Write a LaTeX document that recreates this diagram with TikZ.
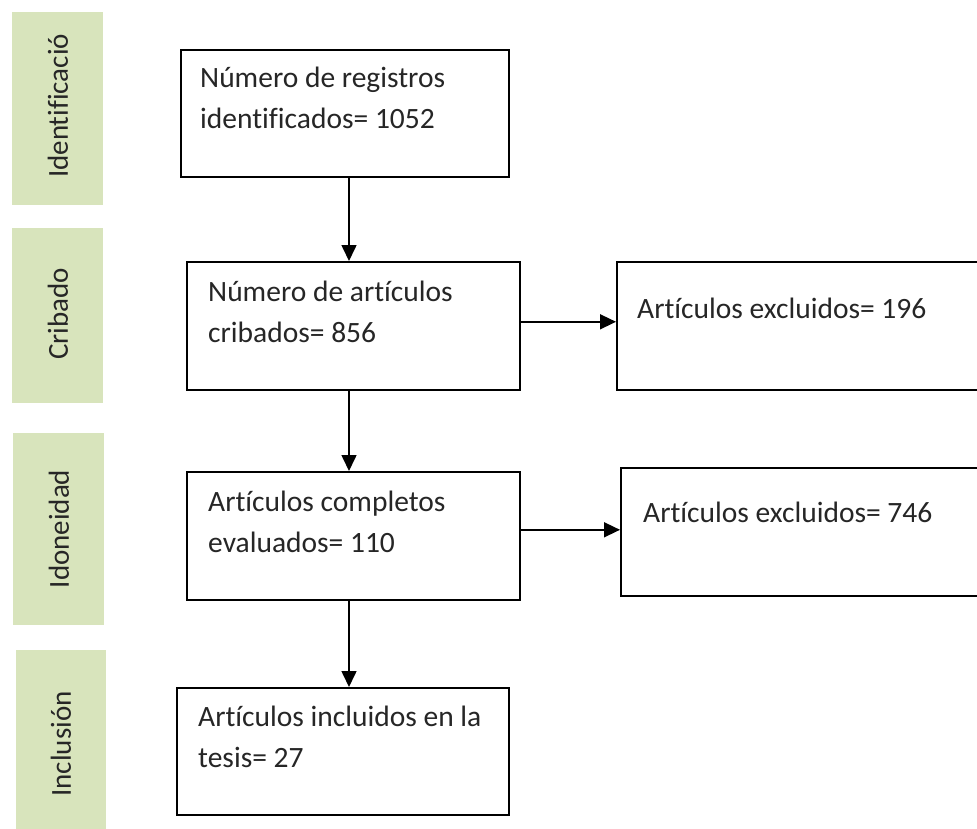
\documentclass[tikz,border=0pt]{standalone}
\usepackage{fontspec}
\setmainfont{Carlito}[Ligatures=NoCommon]
\usetikzlibrary{arrows.meta}
\definecolor{bargreen}{HTML}{D8E4BC}
\definecolor{txtgray}{HTML}{262626}
\tikzset{
  sidebar/.style={fill=bargreen, draw=none},
  sidetext/.style={rotate=90, text=txtgray, font=\fontsize{29}{34}\selectfont, inner sep=0pt},
  boxshape/.style={draw=black, line width=1.6pt, fill=white, inner sep=0pt, anchor=north west},
  boxtext/.style={text=txtgray, font=\fontsize{29.5}{41}\selectfont, align=left, inner sep=0pt, anchor=north west},
  arr/.style={draw=black, line width=1.6pt, -{Triangle[length=16pt,width=15pt]}}
}
\newcommand{\firstline}{\rule{0pt}{30pt}}
\begin{document}
\begin{tikzpicture}[x=1pt,y=-1pt]
\useasboundingbox (0,0) rectangle (977,829);
\begin{scope}
\clip (0,0) rectangle (977,829);
% side bars
\fill[sidebar] (12,12) rectangle (103,205);
\fill[sidebar] (12,228) rectangle (103,403);
\fill[sidebar] (13,433) rectangle (104,625);
\fill[sidebar] (16,650) rectangle (106,840);
\node[sidetext] (sIdent) at (58,106) {Identificació};
\node[sidetext] (sCrib) at (58,314) {Cribado};
\node[sidetext] (sIdon) at (59,529) {Idoneidad};
\node[sidetext] (sIncl) at (61,744) {Inclusión};
% boxes
\node[boxshape, minimum width=328pt, minimum height=127pt] (b1) at (180,49) {};
\node[boxshape, minimum width=333pt, minimum height=128pt] (b2) at (186,261) {};
\node[boxshape, minimum width=380pt, minimum height=128pt] (b3) at (616,261) {};
\node[boxshape, minimum width=333pt, minimum height=128pt] (b4) at (186,471) {};
\node[boxshape, minimum width=380pt, minimum height=128pt] (b5) at (620,467) {};
\node[boxshape, minimum width=332pt, minimum height=127pt] (b6) at (176,687) {};
% texts
\node[boxtext] (t1) at (200,57) {\firstline Número de registros\\identificados= 1052};
\node[boxtext] (t2) at (208,271) {\firstline Número de artículos\\cribados= 856};
\node[boxtext] (t3) at (637,288) {\firstline Artículos excluidos= 196};
\node[boxtext] (t4) at (208,481) {\firstline Artículos completos\\evaluados= 110};
\node[boxtext] (t5) at (643,492) {\firstline Artículos excluidos= 746};
\node[boxtext] (t6) at (198,696) {\firstline Artículos incluidos en la\\tesis= 27};
% connectors
\coordinate (axis) at (349,0);
\draw[arr] (b1.south -| axis) -- (b2.north -| axis);
\draw[arr] (b2.south -| axis) -- (b4.north -| axis);
\draw[arr] (b4.south -| axis) -- (b6.north -| axis);
\draw[arr] ([yshift=4pt]b2.east) -- ([yshift=4pt]b2.east -| b3.west);
\draw[arr] ([yshift=6pt]b4.east) -- ([yshift=6pt]b4.east -| b5.west);
\end{scope}
\end{tikzpicture}
\end{document}
